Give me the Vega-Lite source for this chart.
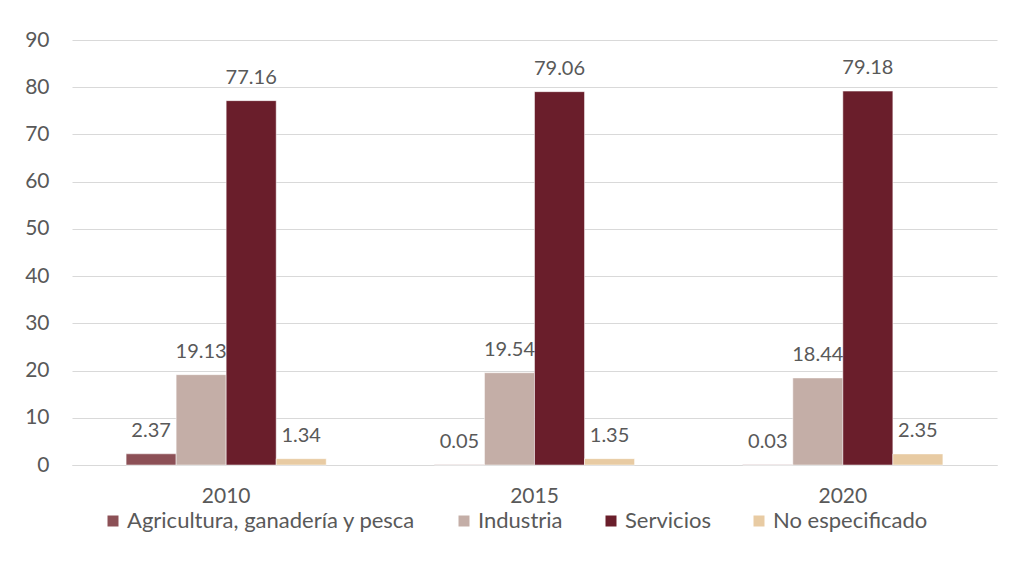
{
  "$schema": "https://vega.github.io/schema/vega-lite/v6.json",
  "autosize": "none",
  "width": 925,
  "height": 425,
  "padding": {"left": 72, "top": 40, "right": 14, "bottom": 114},
  "background": "#ffffff",
  "config": {
    "font": "Lato",
    "view": {"stroke": null},
    "axis": {"labelFont": "Lato", "labelColor": "#595959", "labelFontSize": 21}
  },
  "data": {
    "values": [
      {"anio": "2010", "sector": "Agricultura, ganadería y pesca", "valor": 2.37},
      {"anio": "2010", "sector": "Industria", "valor": 19.13},
      {"anio": "2010", "sector": "Servicios", "valor": 77.16},
      {"anio": "2010", "sector": "No especificado", "valor": 1.34},
      {"anio": "2015", "sector": "Agricultura, ganadería y pesca", "valor": 0.05},
      {"anio": "2015", "sector": "Industria", "valor": 19.54},
      {"anio": "2015", "sector": "Servicios", "valor": 79.06},
      {"anio": "2015", "sector": "No especificado", "valor": 1.35},
      {"anio": "2020", "sector": "Agricultura, ganadería y pesca", "valor": 0.03},
      {"anio": "2020", "sector": "Industria", "valor": 18.44},
      {"anio": "2020", "sector": "Servicios", "valor": 79.18},
      {"anio": "2020", "sector": "No especificado", "valor": 2.35}
    ]
  },
  "encoding": {
    "x": {
      "field": "anio", "type": "nominal",
      "scale": {"paddingInner": 0.351, "paddingOuter": 0.1755},
      "axis": {"title": null, "labelAngle": 0, "ticks": false, "domain": true, "domainColor": "#d9d9d9", "labelPadding": 20, "grid": false}
    },
    "xOffset": {
      "field": "sector", "type": "nominal",
      "scale": {"domain": ["Agricultura, ganadería y pesca", "Industria", "Servicios", "No especificado"], "paddingInner": 0, "paddingOuter": 0}
    },
    "y": {
      "field": "valor", "type": "quantitative",
      "scale": {"domain": [0, 90], "nice": false},
      "axis": {"title": null, "values": [0,10,20,30,40,50,60,70,80,90], "ticks": false, "domain": false, "gridColor": "#d9d9d9", "gridWidth": 1, "labelPadding": 23}
    }
  },
  "layer": [
    {
      "mark": {"type": "bar", "stroke": "#ffffff", "strokeWidth": 0.5},
      "encoding": {
        "color": {
          "field": "sector", "type": "nominal",
          "scale": {
            "domain": ["Agricultura, ganadería y pesca", "Industria", "Servicios", "No especificado"],
            "range": ["#8c5056", "#c4aea7", "#6a1e2b", "#e8cba3"]
          },
          "legend": {
            "title": null,
            "orient": "none",
            "direction": "horizontal",
            "legendX": 30,
            "legendY": 470,
            "symbolType": "square",
            "symbolSize": 121,
            "symbolStrokeWidth": 0,
            "labelFont": "Lato",
            "labelFontSize": 22,
            "labelLimit": 500,
            "labelColor": "#595959",
            "labelOffset": 3,
            "columnPadding": 37
          }
        }
      }
    },
    {
      "mark": {"type": "text", "baseline": "alphabetic", "dy": -17, "font": "Lato", "fontSize": 20, "color": "#595959"},
      "encoding": {
        "text": {"field": "valor", "type": "quantitative", "format": ".2f"}
      }
    }
  ]
}
